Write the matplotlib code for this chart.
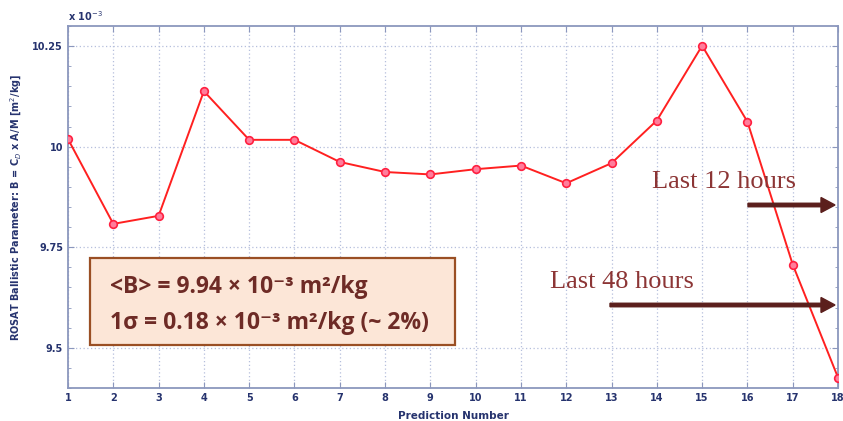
import matplotlib
matplotlib.use("Agg")
import matplotlib.pyplot as plt
from matplotlib.ticker import MultipleLocator, FixedLocator

# ballistic parameter per prediction, in units of 1e-3 m^2/kg
prediction = list(range(1, 19))
b_param = [10.019, 9.808, 9.828, 10.138, 10.017, 10.017, 9.962, 9.937, 9.931,
           9.944, 9.953, 9.909, 9.959, 10.065, 10.251, 10.062, 9.707, 9.426]
y_ticks = [9.5, 9.75, 10, 10.25]
y_tick_labels = ["9.5", "9.75", "10", "10.25"]

navy = "#26336e"
spine = "#8b97bd"
brown_txt = "#6e2b26"
arrow_col = "#5b1f1c"

W, H = 843, 421
fig = plt.figure(figsize=(W / 100, H / 100), dpi=100)
ax = fig.add_axes([68 / W, 1 - 388 / H, 770 / W, 362 / H])

ax.plot(prediction, b_param, color="#ff2020", lw=1.4, marker="o", ms=5.5,
        mfc="#ff7d9b", mec="#ff2040", mew=1.2, zorder=3)

ax.set_xlim(1, 18)
ax.set_ylim(9.4, 10.3)
ax.xaxis.set_major_locator(MultipleLocator(1))
ax.yaxis.set_major_locator(FixedLocator(y_ticks))
ax.set_yticklabels(y_tick_labels)
ax.yaxis.set_minor_locator(MultipleLocator(0.05))
ax.tick_params(which="both", direction="in", top=True, right=True,
               color=spine, labelcolor=navy, labelsize=7)
ax.tick_params(which="major", length=4)
ax.tick_params(which="minor", length=2.5)
for lbl in ax.get_xticklabels() + ax.get_yticklabels():
    lbl.set_fontweight("bold")
for s in ax.spines.values():
    s.set_color(spine)
    s.set_linewidth(1.3)
ax.grid(True, which="major", color="#b5bfdc", linestyle=(0, (1, 2)), lw=0.9)

ax.set_xlabel("Prediction Number", color=navy, fontsize=7.5, fontweight="bold",
              labelpad=6)
ax.set_ylabel(r"ROSAT Ballistic Parameter: B = C$_D$ x A/M [m$^2$/kg]",
              color=navy, fontsize=7, fontweight="bold", labelpad=6)
fig.text(68 / W, 1 - 16 / H, r"x 10$^{-3}$", color=navy, fontsize=7,
         fontweight="bold", va="center")

# summary box
fig.patches.append(plt.Rectangle((90 / W, 1 - 345 / H), 365 / W, 87 / H,
                                 transform=fig.transFigure, facecolor="#fce6d7",
                                 edgecolor="#9a4f24", lw=1.6, zorder=5))
box_font = dict(color=brown_txt, fontsize=16.5, fontweight="bold",
                family=["Open Sans", "DejaVu Sans"], va="center", zorder=6)
fig.text(110 / W, 1 - 287 / H, "<B> = 9.94 × 10⁻³ m²/kg", **box_font)
fig.text(110 / W, 1 - 323 / H, "1σ = 0.18 × 10⁻³ m²/kg (~ 2%)", **box_font)

# time window markers
fig.text(652 / W, 1 - 182 / H, "Last 12 hours", color="#8c3535", fontsize=19,
         family="Liberation Serif", va="center")
fig.text(550 / W, 1 - 282 / H, "Last 48 hours", color="#8c3535", fontsize=19,
         family="Liberation Serif", va="center")
for x0, y0 in [(748, 205), (610, 305)]:
    fig.patches.append(matplotlib.patches.FancyArrow(
        x0 / W, 1 - y0 / H, (835 - x0) / W, 0, width=3.5 / H,
        head_width=15 / H, head_length=14 / W, length_includes_head=True,
        transform=fig.transFigure, color=arrow_col, zorder=6))

fig.savefig("out.png", dpi=100)
